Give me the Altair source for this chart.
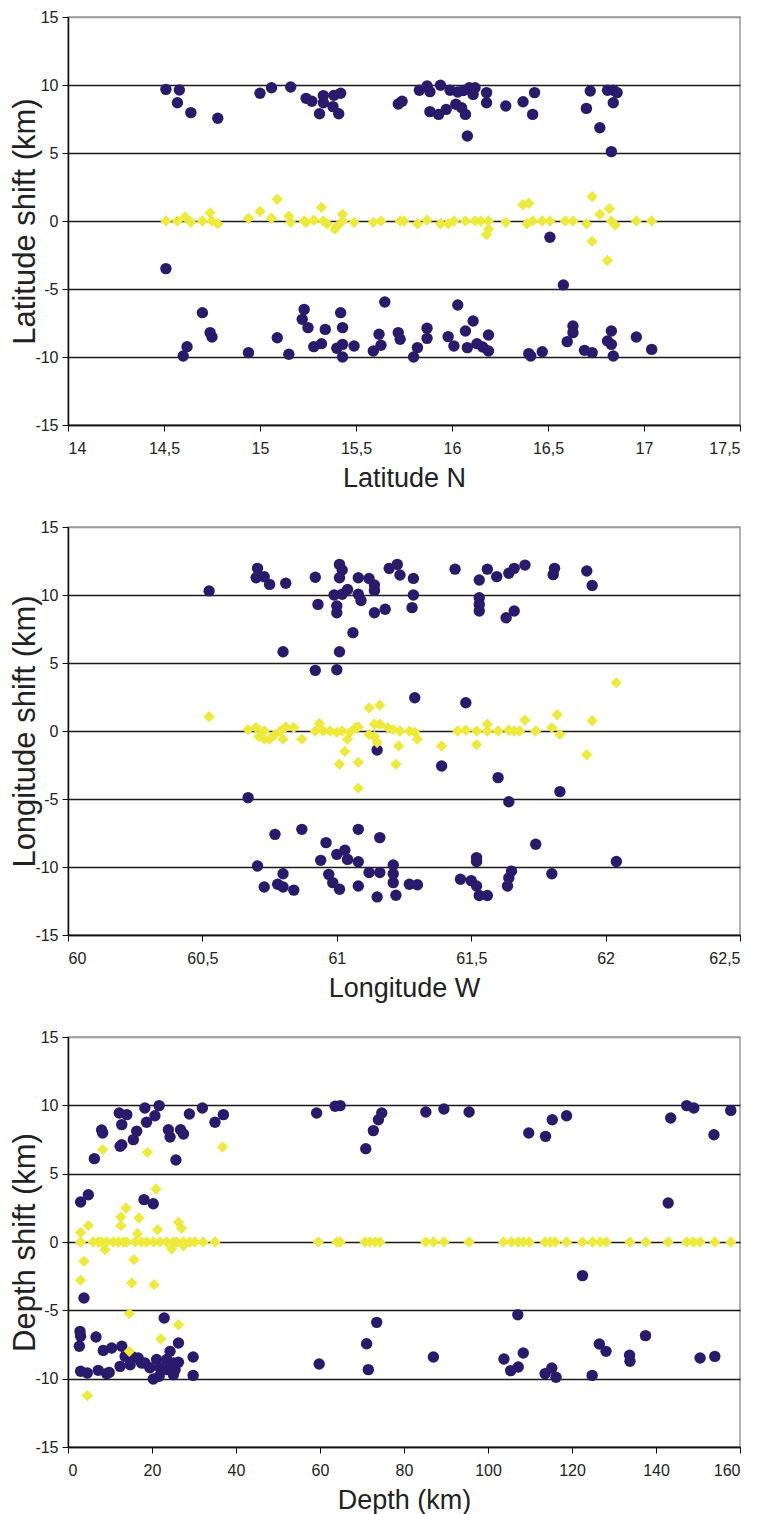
import altair as alt
import pandas as pd

# ---------------- Panel 1: Latitude ----------------
lat_circ_x = [14.51, 14.58, 14.57, 14.64, 14.78, 15.00, 15.06, 15.16, 15.24, 15.27, 15.33, 15.33, 15.31, 15.38,
              15.385, 15.42, 15.41, 15.72, 15.74, 15.83, 15.87, 15.885, 15.94, 15.99, 16.03, 16.09, 16.11, 16.18,
              16.18, 15.885, 15.93, 15.97, 16.02, 16.07, 16.05, 16.08, 16.28, 16.37, 16.43, 16.42, 16.72, 16.70,
              16.81, 16.84, 16.86, 16.84, 16.77, 16.83, 16.06, 16.12,
              14.51, 16.51, 16.58,
              14.70, 14.60, 14.62, 14.74, 14.75, 14.94, 15.09, 15.15, 15.23, 15.22, 15.25, 15.34, 15.28, 15.32,
              15.40, 15.43, 15.42, 15.43, 15.43, 15.49, 15.59, 15.62, 15.63, 15.65, 15.72, 15.73, 15.87, 15.87,
              15.98, 16.01, 15.82, 15.80, 16.03, 16.11, 16.07, 16.19, 16.08, 16.13, 16.16, 16.19, 16.40, 16.41,
              16.47, 16.60, 16.63, 16.63, 16.69, 16.73, 16.83, 16.81, 16.83, 16.84, 16.96, 17.04]
lat_circ_y = [9.68, 9.63, 8.70, 7.97, 7.55, 9.39, 9.80, 9.85, 9.02, 8.80, 9.22, 8.70, 7.89, 8.41,
              9.24, 9.39, 7.89, 8.60, 8.80, 9.61, 9.93, 9.51, 9.98, 9.61, 9.49, 9.80, 9.31, 9.44,
              8.70, 8.04, 7.84, 8.21, 8.58, 7.84, 8.33, 6.25, 8.46, 8.77, 9.44, 7.84, 9.56, 8.28,
              9.61, 9.61, 9.44, 8.70, 6.86, 5.10, 9.60, 9.80,
              -3.5, -1.2, -4.7,
              -6.74, -9.93, -9.24, -8.21, -8.53, -9.68, -8.58, -9.80, -6.50, -7.23, -7.84, -7.97, -9.24, -9.02,
              -9.36, -10.0, -6.74, -7.84, -9.07, -9.19, -9.56, -8.33, -9.14, -5.96, -8.21, -8.70, -7.89, -8.63,
              -8.50, -9.19, -9.31, -10.0, -6.18, -7.35, -8.09, -8.38, -9.31, -9.02, -9.26, -9.56, -9.75, -9.93,
              -9.61, -8.87, -8.21, -7.72, -9.51, -9.68, -8.09, -8.82, -9.07, -9.93, -8.53, -9.44]
lat_diam_x = [14.51, 14.57, 14.61, 14.64, 14.70, 14.74, 14.75, 14.78, 14.94, 15.00, 15.06, 15.09, 15.15, 15.16,
              15.23, 15.24, 15.28, 15.32, 15.33, 15.35, 15.39, 15.40, 15.43, 15.43, 15.49, 15.59, 15.63, 15.73,
              15.75, 15.82, 15.87, 15.94, 15.98, 16.01, 16.07, 16.12, 16.15, 16.19, 16.18, 16.19, 16.28, 16.37,
              16.40, 16.39, 16.42, 16.47, 16.51, 16.59, 16.63, 16.70, 16.73, 16.77, 16.82, 16.83, 16.85, 16.73,
              16.81, 16.96, 17.04]
lat_diam_y = [0.0, 0.0, 0.3, -0.1, 0.0, 0.6, 0.0, -0.2, 0.2, 0.7, 0.2, 1.6, 0.35, -0.1,
              0.0, -0.1, 0.05, 1.0, 0.0, -0.2, -0.6, -0.4, 0.5, 0.0, -0.1, -0.1, 0.0, 0.0,
              0.0, -0.2, 0.05, -0.2, -0.2, 0.0, 0.0, 0.0, 0.0, 0.0, -1.0, -0.6, -0.1, 1.2,
              1.3, -0.2, 0.0, 0.0, 0.0, 0.0, 0.0, -0.2, 1.8, 0.5, 0.9, 0.0, -0.3, -1.5,
              -2.9, 0.0, 0.0]
lat_ticks = [14, 14.5, 15, 15.5, 16, 16.5, 17, 17.5]

# ---------------- Panel 2: Longitude ----------------
lon_circ_x = [60.525, 60.705, 60.70, 60.73, 60.75, 60.81, 60.92, 61.01, 61.02, 61.01, 61.08, 61.12, 61.14,
              61.195, 61.225, 61.235, 61.285, 61.44, 61.56, 61.53, 61.595, 61.64, 61.66, 61.70, 61.81, 61.805,
              61.93, 61.95, 60.93, 61.00, 61.00, 60.99, 61.02, 61.04, 61.08, 61.09, 61.14, 61.14, 61.18, 61.06,
              60.80, 61.01, 60.92, 61.00, 61.28, 61.285, 61.53, 61.53, 61.53, 61.63, 61.66,
              61.29, 61.48, 61.39, 61.60, 61.64, 61.83, 61.15, 60.67,
              60.77, 60.87, 61.08, 61.16, 60.96, 61.00, 61.03, 61.04, 60.94, 61.08, 60.705, 60.80, 60.73, 60.78,
              60.80, 60.84, 60.97, 60.985, 61.01, 61.08, 61.12, 61.16, 61.21, 61.21, 61.21, 61.15, 61.22, 61.27,
              61.74, 62.04, 61.52, 61.52, 61.65, 61.80, 61.64, 61.46, 61.50, 61.52, 61.30, 61.635, 61.53, 61.56]
lon_circ_y = [10.3, 11.96, 11.27, 11.34, 10.78, 10.86, 11.3, 12.25, 11.84, 11.27, 11.27, 11.22, 10.74,
              11.96, 12.25, 11.47, 11.22, 11.9, 11.9, 11.1, 11.35, 11.6, 11.96, 12.2, 11.96, 11.5,
              11.76, 10.7, 9.31, 9.19, 8.70, 10.0, 10.05, 10.4, 10.05, 9.6, 10.34, 8.70, 8.95, 7.23,
              5.83, 5.83, 4.46, 4.5, 9.07, 10.0, 9.8, 8.82, 9.31, 8.33, 8.82,
              2.45, 2.08, -2.57, -3.43, -5.2, -4.46, -1.4, -4.9,
              -7.6, -7.23, -7.23, -7.84, -8.21, -9.07, -8.77, -9.44, -9.51, -9.61, -9.93, -10.5, -11.47, -11.27,
              -11.47, -11.7, -10.54, -11.15, -11.64, -11.4, -10.4, -10.4, -9.85, -10.5, -11.15, -12.2, -12.08, -11.27,
              -8.33, -9.6, -9.31, -9.6, -10.3, -10.5, -10.8, -10.9, -11.0, -11.4, -11.3, -11.4, -12.1, -12.1]
lon_diam_x = [60.525, 60.67, 60.70, 60.71, 60.73, 60.73, 60.75, 60.77, 60.79, 60.80, 60.81, 60.84, 60.87,
              60.935, 60.92, 60.95, 60.975, 61.00, 61.02, 61.05, 61.07, 61.08, 61.04, 61.12, 61.16, 61.14, 61.16,
              61.19, 61.21, 61.235, 61.12, 61.14, 61.15, 61.23, 61.03, 61.01, 61.08, 61.08, 61.22,
              61.27, 61.29, 61.30, 61.39, 61.45, 61.48, 61.52, 61.56, 61.56, 61.60, 61.64, 61.66, 61.68, 61.52,
              61.70, 61.74, 61.80, 61.82, 61.83, 61.93, 61.95, 62.04]
lon_diam_y = [1.05, 0.1, 0.25, -0.4, 0.0, -0.6, -0.6, -0.25, 0.0, -0.6, 0.3, 0.25, -0.6,
              0.55, 0.0, 0.0, 0.0, -0.1, 0.0, -0.1, 0.25, 0.3, -0.6, 1.7, 1.9, 0.5, 0.5,
              0.25, 0.1, 0.0, -0.25, -0.4, -0.85, -1.1, -1.5, -2.45, -2.3, -4.2, -2.45,
              0.0, -0.1, -0.6, -1.1, 0.0, 0.05, 0.0, 0.5, 0.0, 0.0, 0.05, 0.0, 0.0, -1.0,
              0.8, 0.0, 0.25, 1.2, -0.25, -1.75, 0.75, 3.55]
lon_ticks = [60, 60.5, 61, 61.5, 62, 62.5]

# ---------------- Panel 3: Depth ----------------
dep_circ_x = [6.27, 8.0, 8.25, 12.2, 12.8, 14.0, 12.8, 12.4, 15.55, 16.35, 18.3, 18.7, 20.7, 21.7, 23.9, 24.3,
              26.8, 27.5, 25.7, 28.9, 32.0, 35.0, 37.0,
              59.2, 63.6, 64.8, 70.9, 72.7, 73.9, 74.7, 85.2, 89.5, 95.5, 109.7, 113.7, 115.3, 118.7, 143.5,
              147.3, 149.0, 153.8, 157.8,
              3.0, 4.84, 18.1, 20.3, 3.8, 142.9, 122.5,
              22.9, 2.86, 3.0, 6.67, 2.7, 8.4, 10.4, 12.8, 26.3, 24.3, 13.6, 15.2, 16.7, 18.3, 21.1, 23.5, 25.1,
              26.3, 17.5, 19.5, 21.9, 23.5, 25.5, 29.8, 3.0, 4.6, 7.2, 9.2, 9.8, 12.4, 14.8, 20.3, 21.7, 25.1, 29.8,
              59.8, 71.1, 73.5, 71.5, 87.0, 103.8, 105.4, 107.2, 107.1, 108.4, 113.6, 115.2, 116.2, 124.8, 126.5,
              128.1, 133.7, 133.8, 137.5, 150.5, 154.0]
dep_circ_y = [6.1, 8.2, 7.98, 9.44, 8.59, 9.32, 7.12, 7.0, 7.49, 8.1, 9.8, 8.76, 9.24, 9.98, 8.22, 7.68,
              8.22, 7.9, 6.0, 9.37, 9.8, 8.76, 9.32,
              9.44, 9.93, 9.98, 6.83, 8.15, 8.95, 9.44, 9.51, 9.73, 9.51, 7.98, 7.73, 8.95, 9.24, 9.07,
              9.98, 9.8, 7.85, 9.63,
              2.93, 3.46, 3.1, 2.8, -4.1, 2.85, -2.46,
              -5.56, -6.54, -6.9, -6.95, -7.63, -7.93, -7.76, -7.63, -7.39, -8.0, -8.37, -8.37, -8.49, -8.85, -8.6, -8.6, -8.85,
              -8.8, -8.85, -9.2, -9.2, -9.34, -9.34, -8.41, -9.46, -9.59, -9.39, -9.63, -9.54, -9.1, -8.98, -10.02, -9.83, -9.71, -9.76,
              -8.93, -7.44, -5.88, -9.34, -8.41, -8.56, -9.41, -9.15, -5.32, -8.12, -9.63, -9.22, -9.9, -9.76, -7.46,
              -8.0, -8.29, -8.73, -6.85, -8.49, -8.37]
dep_diam_x = [8.25, 18.9, 36.8, 20.95, 13.8, 12.6, 12.6, 16.9, 4.84, 3.0, 26.3, 27.0, 21.3, 16.5, 3.0,
              6.0, 7.2, 8.0, 9.2, 10.8, 12.0, 13.2, 14.0, 16.0, 17.5, 18.7, 20.3, 21.9, 23.5, 25.1, 25.9, 27.5,
              29.0, 30.2, 32.2, 35.0, 8.8, 24.7, 27.5, 3.8, 15.7, 3.0, 15.2, 20.5, 14.6, 26.3, 22.1, 14.6, 4.6,
              59.6, 64.0, 64.8, 70.7, 71.9, 73.1, 74.3, 85.2, 87.0, 89.5, 95.5, 103.7, 105.6, 107.2, 108.4, 109.8,
              113.6, 114.8, 116.0, 118.7, 122.5, 124.9, 126.7, 128.1, 133.8, 137.6, 142.9, 147.3, 148.9, 150.5,
              154.0, 157.8]
dep_diam_y = [6.76, 6.56, 6.95, 3.88, 2.49, 1.83, 1.2, 1.76, 1.2, 0.7, 1.44, 1.0, 0.9, 0.6, 0.0,
              0, 0, 0, 0, 0, 0, 0, 0, 0, 0, 0, 0, 0, 0, 0, 0, 0,
              0, 0, 0, 0, -0.56, -0.5, -0.27, -1.41, -1.29, -2.8, -3.0, -3.12, -5.24, -6.05, -7.1, -8.0, -11.24,
              0, 0, 0, 0, 0, 0, 0, 0, 0, 0, 0, 0, 0, 0, 0, 0,
              0, 0, 0, 0, 0, 0, 0, 0, 0, 0, 0, 0, 0, 0,
              0, 0]
dep_ticks = [0, 20, 40, 60, 80, 100, 120, 140, 160]

shift_ticks = [-15, -10, -5, 0, 5, 10, 15]

NAVY = "#2a1a6c"
YELLOW = "#eeea3c"
FONT = "Liberation Sans"
W, H = 672, 408


def panel(cx, cy, dx, dy, xdom, xticks, xtitle, ytitle, h=H):
    circ = pd.DataFrame({"x": cx, "y": cy})
    diam = pd.DataFrame({"x": dx, "y": dy})
    xenc = alt.X("x:Q", title=xtitle,
                 scale=alt.Scale(domain=xdom, nice=False, zero=False),
                 axis=alt.Axis(values=xticks, grid=False, tickSize=6, tickColor="#111",
                               domainColor="#111", domainWidth=1.5, labelPadding=9,
                               labelExpr="replace(toString(datum.value), '.', ',')",
                               titlePadding=9, labelFontSize=16, titleFontSize=27,
                               labelFont=FONT, titleFont=FONT, labelColor="#222", titleColor="#222",
                               titleFontWeight="normal"))
    yenc = alt.Y("y:Q", title=ytitle,
                 scale=alt.Scale(domain=[-15, 15], nice=False),
                 axis=alt.Axis(values=shift_ticks, grid=True, tickSize=6, tickColor="#111",
                               domainColor="#111", domainWidth=1.5, labelPadding=4,
                               labelExpr="toString(datum.value)",
                               gridColor={"condition": {"test": "datum.value === 15", "value": "#9a9a9a"},
                                          "value": "#1a1a1a"},
                               gridWidth=1.3, titleX=-27, labelFontSize=16, titleFontSize=31,
                               labelFont=FONT, titleFont=FONT, labelColor="#222", titleColor="#222",
                               titleFontWeight="normal"))
    c = alt.Chart(circ).mark_point(shape="circle", filled=True, opacity=1, color=NAVY, size=130).encode(
        x=xenc, y=yenc)
    d = alt.Chart(diam).mark_point(shape="diamond", filled=True, opacity=1, color=YELLOW, size=130).encode(
        x="x:Q", y="y:Q")
    return alt.layer(c, d).properties(width=W, height=h)


p1 = panel(lat_circ_x, lat_circ_y, lat_diam_x, lat_diam_y, [14, 17.5], lat_ticks, "Latitude N", "Latitude shift (km)")
p2 = panel(lon_circ_x, lon_circ_y, lon_diam_x, lon_diam_y, [60, 62.5], lon_ticks, "Longitude W", "Longitude shift (km)")
p3 = panel(dep_circ_x, dep_circ_y, dep_diam_x, dep_diam_y, [0, 160], dep_ticks, "Depth (km)", "Depth shift (km)", h=410)

chart = alt.vconcat(p1, p2, p3, spacing=26).resolve_scale(
    x="independent", y="independent"
).properties(padding=0).configure_view(
    stroke="#9a9a9a", strokeWidth=1.5
)

chart.save("out.html", embed_options={"renderer": "svg", "actions": False})
